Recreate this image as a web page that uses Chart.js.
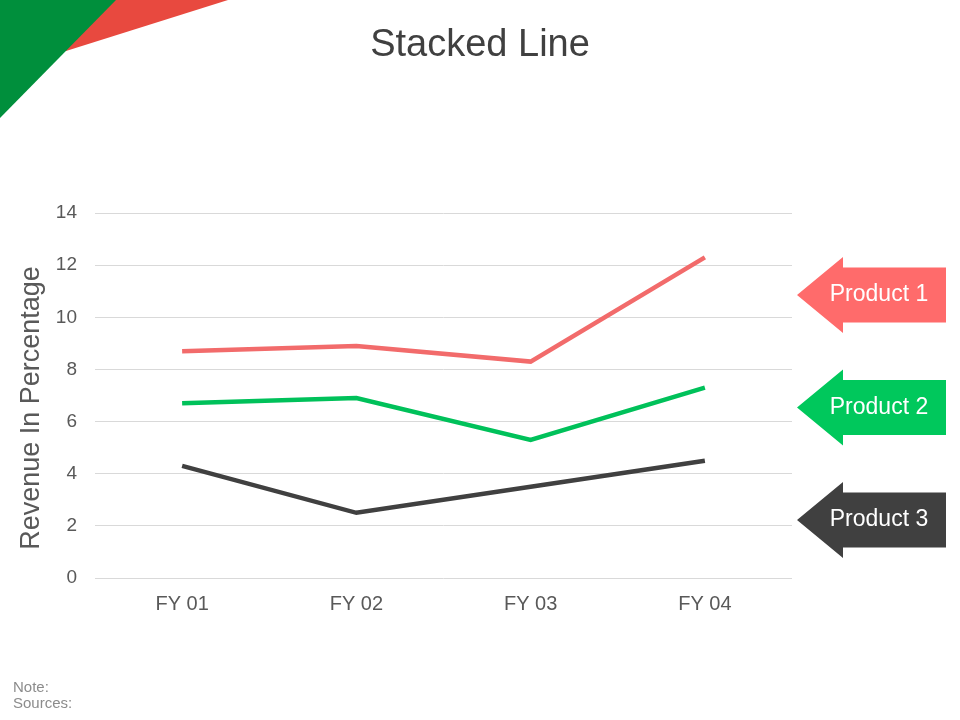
<!DOCTYPE html>
<html lang="en">
<head>
  <meta charset="UTF-8">
  <title>Stacked Line</title>
  <script src="https://cdn.jsdelivr.net/npm/chart.js"></script>
  <style>
    html, body { margin: 0; padding: 0; background: #fff; }
    canvas { display: block; }
  </style>
</head>
<body>
  <canvas id="lineChart" width="960" height="720"></canvas>

  <script>
    const categories = ['FY 01', 'FY 02', 'FY 03', 'FY 04'];
    const product1 = [8.7, 8.9, 8.3, 12.3];
    const product2 = [6.7, 6.9, 5.3, 7.3];
    const product3 = [4.3, 2.5, 3.5, 4.5];
    const seriesNames = ['Product 1', 'Product 2', 'Product 3'];
    const yMin = 0, yMax = 14, yStep = 2;

    const lineColors = ['#f26b6b', '#00c15a', '#404040'];
    const arrowColors = ['#ff6b6b', '#00c85c', '#404040'];
    const arrowCenters = [295, 407.5, 520];
    const font = '"Liberation Sans", Arial, sans-serif';

    // slide decoration, axis title, callout arrows and footnote
    const slideExtras = {
      id: 'slideExtras',
      beforeDraw(chart) {
        const ctx = chart.ctx;
        ctx.save();
        ctx.fillStyle = '#e8493f';
        ctx.beginPath();
        ctx.moveTo(0, 0);
        ctx.lineTo(228, 0);
        ctx.lineTo(66, 51);
        ctx.lineTo(0, 60);
        ctx.closePath();
        ctx.fill();
        ctx.fillStyle = '#008f3c';
        ctx.beginPath();
        ctx.moveTo(0, 0);
        ctx.lineTo(116, 0);
        ctx.lineTo(0, 118);
        ctx.closePath();
        ctx.fill();
        ctx.restore();
      },
      afterDraw(chart) {
        const ctx = chart.ctx;
        ctx.save();

        // y axis title
        ctx.translate(32, 408);
        ctx.rotate(-Math.PI / 2);
        ctx.fillStyle = '#595959';
        ctx.font = '27px ' + font;
        ctx.textAlign = 'center';
        ctx.textBaseline = 'middle';
        ctx.fillText('Revenue In Percentage', 0, 0);
        ctx.setTransform(1, 0, 0, 1, 0, 0);

        // arrows
        const x0 = 797, xHead = 843, x1 = 946;
        chart.data.datasets.forEach((ds, i) => {
          const cy = arrowCenters[i];
          ctx.fillStyle = arrowColors[i];
          ctx.beginPath();
          ctx.moveTo(x0, cy);
          ctx.lineTo(xHead, cy - 38);
          ctx.lineTo(xHead, cy - 27.5);
          ctx.lineTo(x1, cy - 27.5);
          ctx.lineTo(x1, cy + 27.5);
          ctx.lineTo(xHead, cy + 27.5);
          ctx.lineTo(xHead, cy + 38);
          ctx.closePath();
          ctx.fill();
          ctx.fillStyle = '#ffffff';
          ctx.font = '23px ' + font;
          ctx.textAlign = 'center';
          ctx.textBaseline = 'middle';
          ctx.fillText(ds.label, 879, cy);
        });

        // footnote
        ctx.fillStyle = '#8c8c8c';
        ctx.font = '15px ' + font;
        ctx.textAlign = 'left';
        ctx.textBaseline = 'middle';
        ctx.fillText('Note:', 13, 688);
        ctx.fillText('Sources:', 13, 704);
        ctx.restore();
      }
    };

    new Chart(document.getElementById('lineChart').getContext('2d'), {
      type: 'line',
      data: {
        labels: categories,
        datasets: [product1, product2, product3].map((values, i) => ({
          label: seriesNames[i],
          data: values,
          borderColor: lineColors[i],
          backgroundColor: lineColors[i],
          borderWidth: 4.5,
          pointRadius: 0,
          tension: 0,
          fill: false
        }))
      },
      options: {
        responsive: false,
        animation: false,
        layout: { padding: 0 },
        plugins: {
          legend: { display: false },
          tooltip: { enabled: false },
          title: {
            display: true,
            text: 'Stacked Line',
            color: '#404040',
            font: { family: font, size: 38, weight: 'normal' },
            padding: { top: 23, bottom: 144.4 }
          }
        },
        scales: {
          x: {
            offset: true,
            grid: { display: false, drawTicks: false },
            border: { display: false },
            ticks: { color: '#595959', padding: 14, font: { family: font, size: 20 } },
            afterFit(scale) { scale.height = 142; }
          },
          y: {
            min: yMin,
            max: yMax,
            grid: { color: '#d9d9d9', lineWidth: 1, drawTicks: false },
            border: { display: false },
            ticks: { stepSize: yStep, color: '#595959', padding: 18, font: { family: font, size: 19 } },
            afterFit(scale) { scale.width = 95; }
          },
          // empty right axis that reserves the space used by the callouts
          side: {
            position: 'right',
            min: yMin,
            max: yMax,
            grid: { display: false, drawTicks: false },
            border: { display: false },
            ticks: { display: false },
            afterFit(scale) { scale.width = 168; }
          }
        }
      },
      plugins: [slideExtras]
    });
  </script>
</body>
</html>
